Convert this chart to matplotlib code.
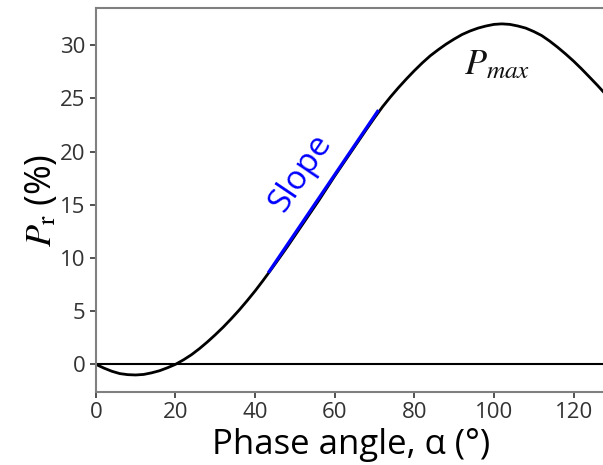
import numpy as np
import matplotlib
matplotlib.use("Agg")
import matplotlib.pyplot as plt

plt.rcParams['font.family'] = ['Open Sans', 'DejaVu Sans']
plt.rcParams['mathtext.fontset'] = 'stix'

# values (every 2 degrees)
alpha = list(range(0, 130, 2))
pol = [0.0, -0.35, -0.65, -0.87, -0.97, -1.0, -0.95, -0.8, -0.6, -0.32,
       0.0, 0.42, 0.9, 1.47, 2.1, 2.78, 3.5, 4.28, 5.1, 5.98,
       6.9, 7.88, 8.9, 9.94, 11.0, 12.1, 13.2, 14.3, 15.4, 16.55,
       17.7, 18.8, 19.9, 21.0, 22.1, 23.17, 24.2, 25.13, 26.0, 26.82,
       27.6, 28.33, 29.0, 29.57, 30.1, 30.57, 31.0, 31.33, 31.6, 31.8,
       31.95, 32.0, 31.95, 31.8, 31.6, 31.28, 30.9, 30.38, 29.8, 29.17,
       28.5, 27.77, 27.0, 26.22, 25.4]

# the straight "slope" part
slope_x = [43.3, 71.0]
slope_y = [8.6, 23.9]

xticks = [0, 20, 40, 60, 80, 100, 120]
yticks = [0, 5, 10, 15, 20, 25, 30]

fig = plt.figure(figsize=(6.03, 4.65), dpi=100)
ax = fig.add_axes([0.159, 0.157, 0.845, 0.826])

ax.axhline(0, color='black', lw=1.5)
ax.plot(alpha, pol, color='black', lw=2)
ax.plot(slope_x, slope_y, color='#0000ff', lw=2.3, solid_capstyle='butt')

ax.text(51.4, 18.0, 'Slope', color='#0000ff', fontsize=24, rotation=56,
        ha='center', va='center', rotation_mode='anchor')
ax.text(92.5, 27.3, r'$P_{max}$', fontsize=26, color='#111111')

ax.set_xlim(0, 128)
ax.set_ylim(-2.6, 33.5)
ax.set_xticks(xticks)
ax.set_yticks(yticks)
ax.tick_params(labelsize=16, colors='#333333', length=4, width=1.2)
for s in ['left', 'bottom', 'top']:
    ax.spines[s].set_color('#808080')
    ax.spines[s].set_linewidth(1.5)
ax.spines['right'].set_visible(False)

ax.set_xlabel(r'Phase angle, α (°)', fontsize=25, labelpad=3)
ax.set_ylabel(r'$P_\mathrm{r}$ (%)', fontsize=26, labelpad=0)

fig.savefig('out.png', dpi=100)
